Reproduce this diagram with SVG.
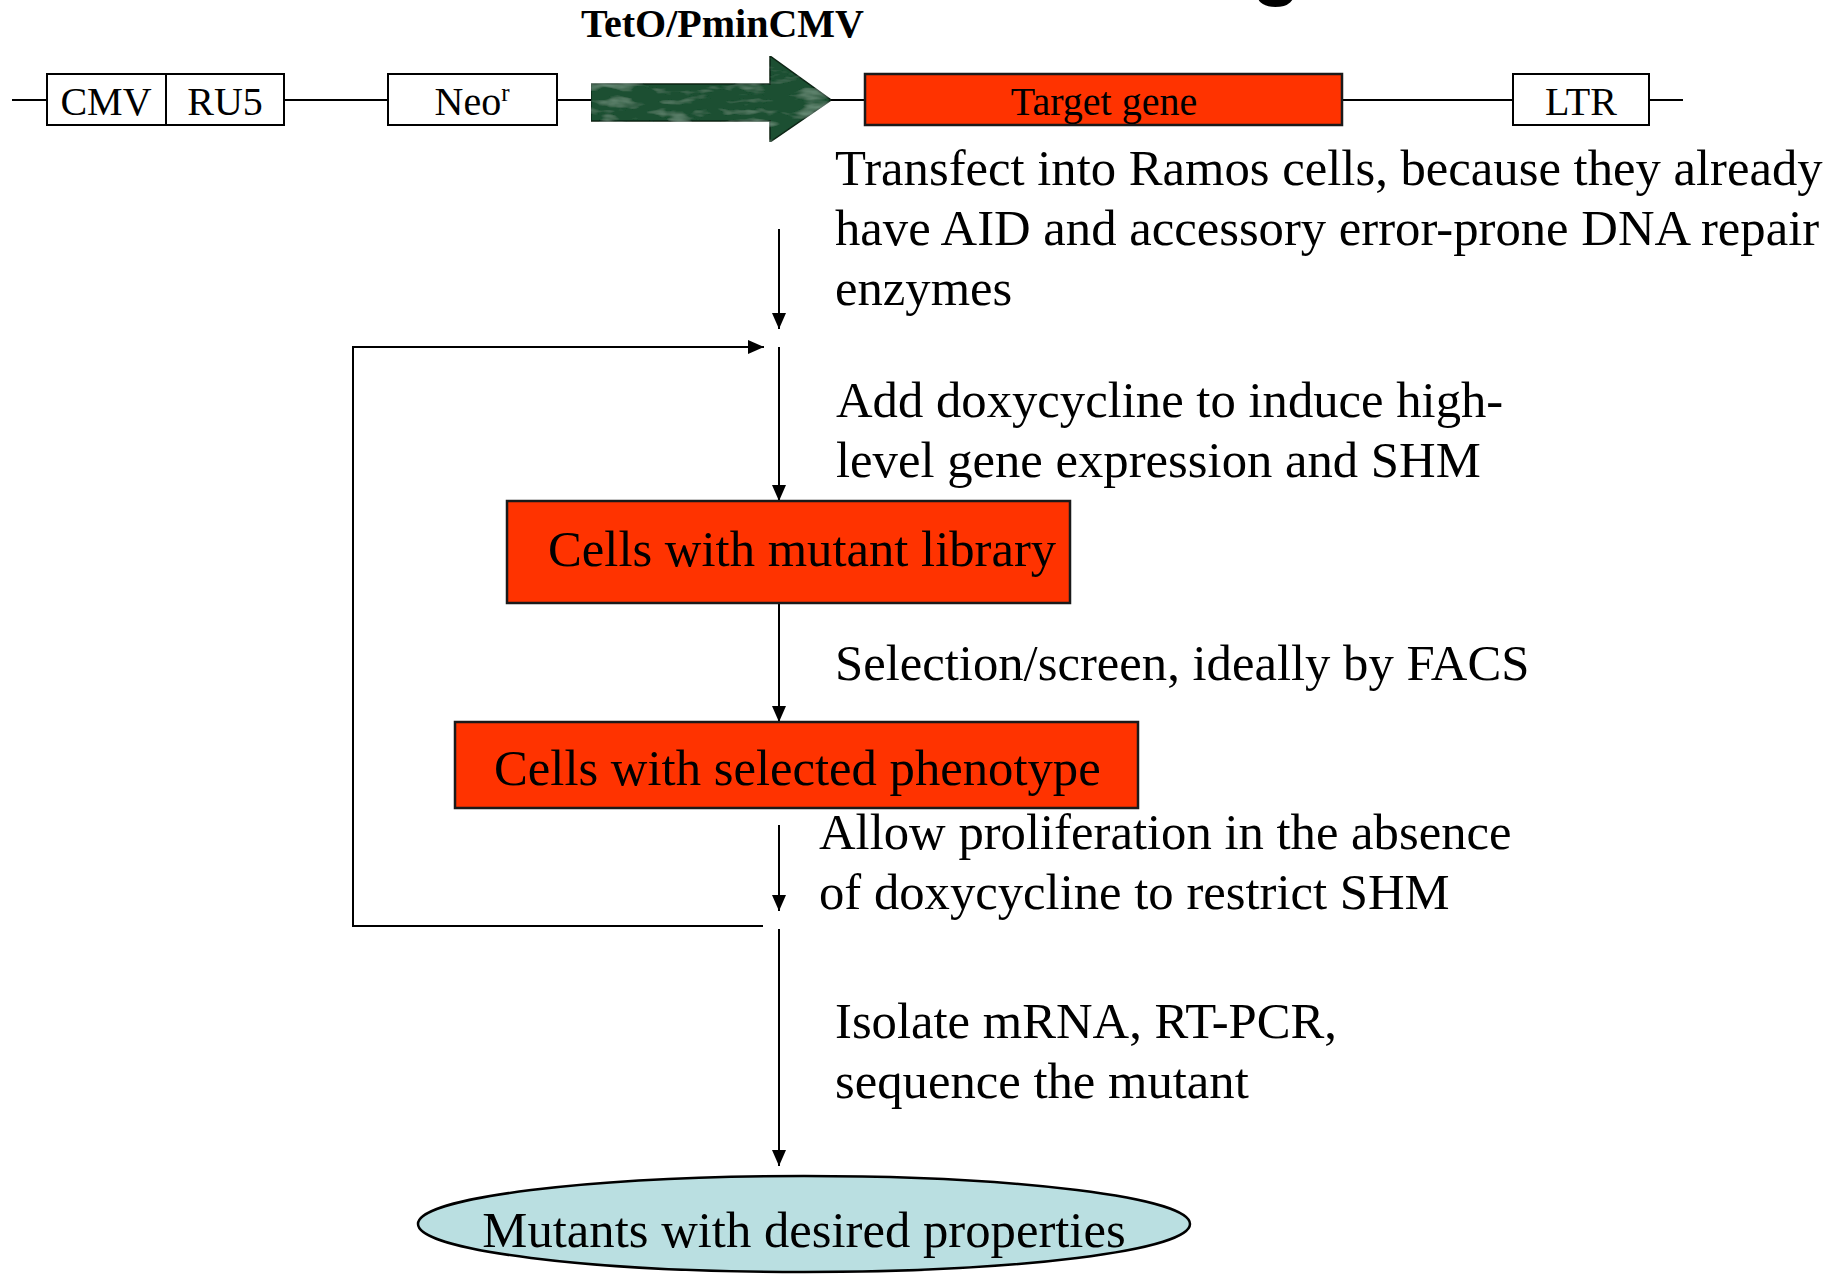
<svg xmlns="http://www.w3.org/2000/svg" width="1843" height="1274" viewBox="0 0 1843 1274">
<style>
.txt{font-family:"Liberation Serif","Times New Roman",serif;fill:#000}
.main{font-size:50.7px}
.lbl{font-size:40px}
.box{fill:#fff;stroke:#000;stroke-width:2}
.red{fill:#FF3300;stroke:#1a1a1a;stroke-width:2.5}
.wire{fill:none;stroke:#000;stroke-width:2}
.conn{fill:none;stroke:#000;stroke-width:2}
</style>
<defs>
<marker id="ah" markerUnits="userSpaceOnUse" markerWidth="16" markerHeight="14" refX="16" refY="7" orient="auto">
<path d="M0,0 L16,7 L0,14 z" fill="#000"/>
</marker>
<filter id="mottle" x="0" y="0" width="1" height="1">
<feTurbulence type="fractalNoise" baseFrequency="0.03 0.1" numOctaves="3" seed="4" result="n"/>
<feColorMatrix in="n" type="matrix" values="0 0 0 0 0.3  0 0 0 0 0.5  0 0 0 0 0.38  0 0 0 1.2 -0.6" result="c"/>
<feComposite in="c" in2="SourceGraphic" operator="in" result="t"/>
<feMerge><feMergeNode in="SourceGraphic"/><feMergeNode in="t"/></feMerge>
</filter>
</defs>

<text class="txt" x="1252" y="-10" style="font-family:'Liberation Sans',Arial,sans-serif;font-weight:bold;font-size:80px">g</text>

<g id="backbone">
<line class="wire" x1="12" y1="100" x2="1683" y2="100"/>
</g>
<g id="cmv">
<rect class="box" x="47" y="74" width="119" height="51"/>
<text class="txt lbl" x="106" y="115" text-anchor="middle">CMV</text>
</g>
<g id="ru5">
<rect class="box" x="166" y="74" width="118" height="51"/>
<text class="txt lbl" x="225" y="115" text-anchor="middle">RU5</text>
</g>
<g id="neo">
<rect class="box" x="388" y="74" width="169" height="51"/>
<text class="txt lbl" x="472" y="115" text-anchor="middle">Neo<tspan dy="-14" font-size="25">r</tspan></text>
</g>
<g id="teto">
<polygon points="591,84 770,84 770,56 831,100 770,142 770,121 591,121" fill="#1C4F30" stroke="#0b2414" stroke-width="1.5" filter="url(#mottle)"/>
<text class="txt" x="581" y="37" font-size="40" font-weight="bold" textLength="283" lengthAdjust="spacingAndGlyphs">TetO/PminCMV</text>
</g>
<g id="target">
<rect class="red" x="865" y="74" width="477" height="51"/>
<text class="txt lbl" x="1104" y="115" text-anchor="middle" font-size="41">Target gene</text>
</g>
<g id="ltr">
<rect class="box" x="1513" y="74" width="136" height="51"/>
<text class="txt lbl" x="1581" y="115" text-anchor="middle" font-size="42">LTR</text>
</g>

<g id="connectors">
<path class="conn" d="M779,229 V329" marker-end="url(#ah)"/>
<path class="conn" d="M763,926 H353 V347 H764" marker-end="url(#ah)"/>
<path class="conn" d="M779,347 V501" marker-end="url(#ah)"/>
<path class="conn" d="M779,603 V722" marker-end="url(#ah)"/>
<path class="conn" d="M779,825 V911" marker-end="url(#ah)"/>
<path class="conn" d="M779,929 V1166" marker-end="url(#ah)"/>
</g>

<g id="step-transfect">
<text class="txt main" x="835" y="185">Transfect into Ramos cells, because they already</text>
<text class="txt main" x="835" y="245">have AID and accessory error-prone DNA repair</text>
<text class="txt main" x="835" y="305">enzymes</text>
</g>
<g id="step-dox">
<text class="txt main" x="836" y="417">Add doxycycline to induce high-</text>
<text class="txt main" x="836" y="477">level gene expression and SHM</text>
</g>
<g id="node-library">
<rect class="red" x="507" y="501" width="563" height="102"/>
<text class="txt main" x="548" y="566">Cells with mutant library</text>
</g>
<g id="step-select">
<text class="txt main" x="835" y="680">Selection/screen, ideally by FACS</text>
</g>
<g id="node-phenotype">
<rect class="red" x="455" y="722" width="683" height="86"/>
<text class="txt main" x="494" y="785">Cells with selected phenotype</text>
</g>
<g id="step-prolif">
<text class="txt main" x="819" y="849">Allow proliferation in the absence</text>
<text class="txt main" x="819" y="909">of doxycycline to restrict SHM</text>
</g>
<g id="step-isolate">
<text class="txt main" x="835" y="1038">Isolate mRNA, RT-PCR,</text>
<text class="txt main" x="835" y="1098">sequence the mutant</text>
</g>
<g id="node-mutants">
<ellipse cx="804" cy="1224" rx="386" ry="48" fill="#BADFE1" stroke="#000" stroke-width="2.5"/>
<text class="txt main" x="804" y="1247" text-anchor="middle">Mutants with desired properties</text>
</g>
</svg>
